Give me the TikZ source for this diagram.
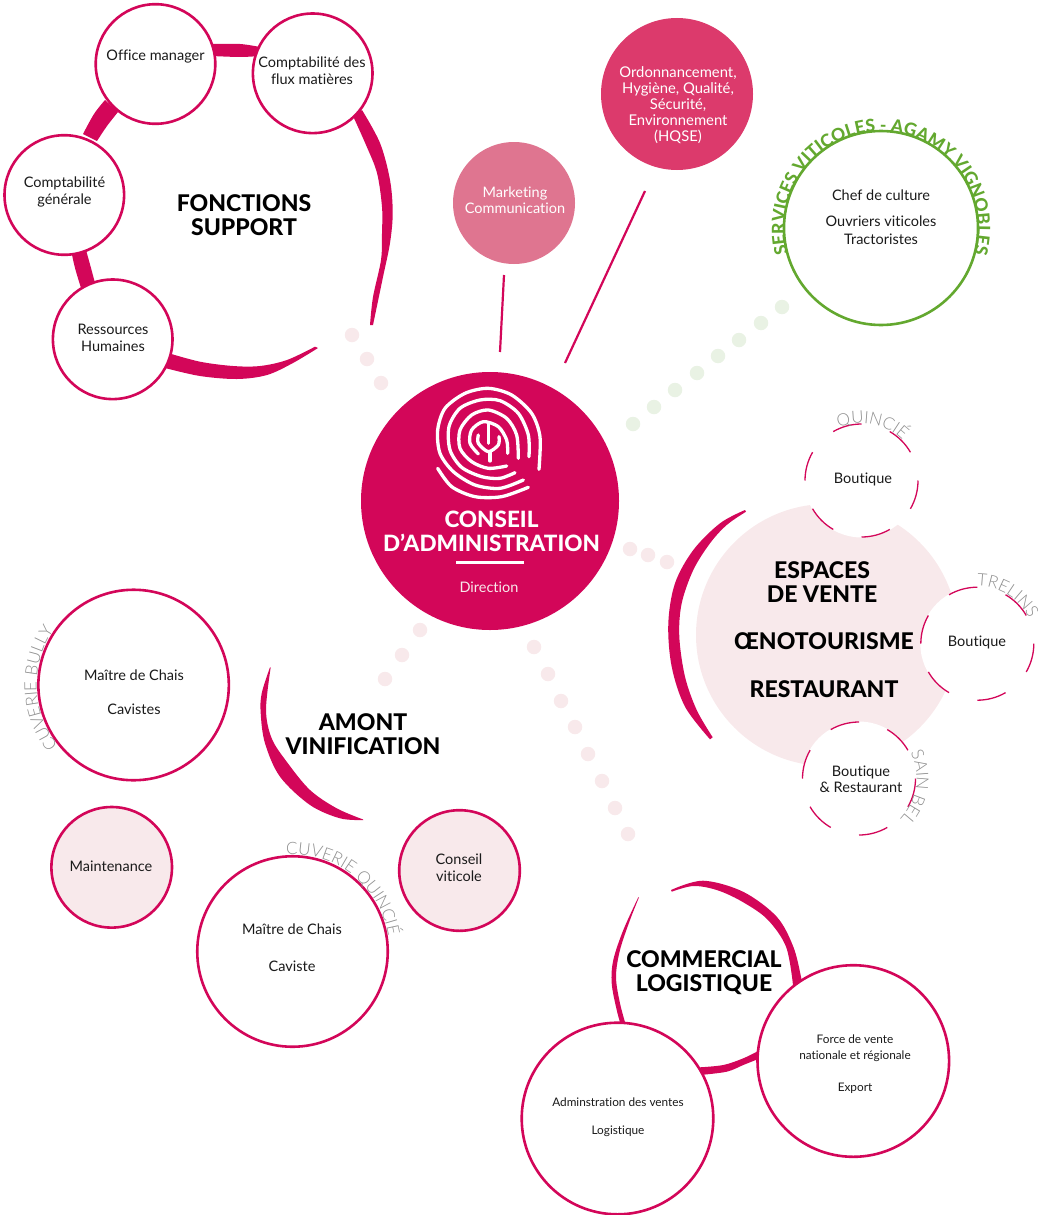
\documentclass[tikz,border=0pt]{standalone}
\usepackage{fontspec}
\setmainfont{Lato}[Ligatures=NoCommon]
\newfontfamily\lightf{Lato}[UprightFont=* Light]
\newfontfamily\heavyf{Lato}[UprightFont=* Heavy]
\usetikzlibrary{decorations.text}
\definecolor{cpink}{HTML}{D30659}
\definecolor{cpale}{HTML}{F8E9EB}
\definecolor{cgreen}{HTML}{63A82F}
\definecolor{cdotg}{HTML}{E9F2E4}
\definecolor{cmark}{HTML}{DF7590}
\definecolor{chqse}{HTML}{DC3A6C}
\definecolor{cgray}{HTML}{8F8F8F}
\definecolor{ctext}{HTML}{1A1A1A}
\newcommand{\fsz}[2]{\fontsize{#1pt}{#2pt}\selectfont}
\newcommand{\brush}[2]{\fill[cpink] plot[smooth,tension=.55] coordinates {#1} -- plot[smooth,tension=.55] coordinates {#2} -- cycle;}
\newcommand{\arctext}[7]{\path[shift={(#1,#2)},y=1pt,decorate,decoration={text along path,text align=center,text={|#6|#7}}] (#4:#3pt) arc[start angle=#4,end angle=#5,radius=#3pt];}
\newcommand{\dasharcs}[3]{\foreach \k in {0,...,5}{\draw[cpink,line width=1.3pt,shift={(#1,#2)},y=1pt] ({30+60*\k}:#3pt) arc[start angle={30+60*\k},end angle={60+60*\k},radius=#3pt];}}
\tikzset{
 ring/.style={circle,draw=cpink,line width=2.6pt,fill=white,inner sep=0pt},
 pring/.style={ring,fill=cpale},
 disc/.style={circle,inner sep=0pt,fill=#1},
 dotp/.style={circle,inner sep=0pt,minimum size=14.5pt,fill=cpale},
 dotg/.style={circle,inner sep=0pt,minimum size=14.5pt,fill=cdotg},
 lbl/.style={align=center,inner sep=0pt,text=ctext,font=\fsz{14.5}{16.5}},
 sml/.style={lbl,font=\fsz{11.8}{16.5}},
 head/.style={align=center,inner sep=0pt,text=black,font=\fsz{23}{24}\heavyf},
 wht/.style={lbl,text=white},
 conn/.style={cpink,line width=2.2pt},
 logo/.style={white,line width=3.3pt,line cap=round,line join=round}
}
\begin{document}
\begin{tikzpicture}[x=1pt,y=-1pt]
\useasboundingbox (0,0) rectangle (1039,1215);
% dots
\foreach \x/\y in {352/335,367/359,381/383,630/549,648/555,667/562,420/630,402/655,385/679,534/647,548/674,561/701,575/727,588/754,602/781,615/808,628/834}
  \node[dotp] at (\x,\y) {};
\foreach \x/\y in {782/307,761/323,739/340,718/356,697/373,675/390,654/407,633/424}
  \node[dotg] at (\x,\y) {};
% brush strokes: support
\brush{(212,44)(240,44)(260,47)}{(260,56)(240,57)(212,56)}
\brush{(105,100)(94,114)(83,134)}{(97,141)(107,126)(118,112)}
\brush{(71,250)(75,268)(81,288)}{(95,283)(91,268)(86,250)}
\brush{(362,110)(380,143)(390,180)(392.7,213)(390,243)(383,277)(373,325)}{(370,325)(373,297)(381,260)(382,233)(382,207)(377,173)(366,145)(353,116)}
\brush{(165,368)(200,376)(237,379)(267,375)(293,363)(318,348)}{(315,346.7)(287,360)(260,366)(233,366)(200,361.7)(168,353)}
% amont
\brush{(270,667.3)(261.7,693.3)(260.7,713.3)(265,743.3)(280,776.7)(310,805)(340,818.3)(363.3,820)}{(362.7,819.3)(336.7,808.3)(310,790)(286.7,761.7)(271.7,738.3)(266,710)(270.7,667.3)}
% espaces
\brush{(745,510)(720,523.3)(693.3,550)(675,583.3)(668.3,623.3)(671.7,666.7)(685,706.7)(710,739.3)}{(712.7,737.3)(696.7,710)(685,676.7)(679.3,636.7)(681.7,603.3)(693.3,570)(710,543.3)(726.7,525)(746,511.7)}
% commercial
\brush{(671,890)(703,880.7)(743,891.7)(776.7,916.7)(793.3,946.7)(801,976.7)(802,985)}{(793,985)(786,946.7)(767,919)(741,901)(716.7,890)(693.3,886)(671.7,891.7)}
\brush{(638.3,897.3)(623.3,930)(613.3,960)(611.7,983.3)(616.7,1010)(621.7,1028)}{(626.7,1028)(620,1003.3)(616,976.7)(620,950)(630,920)(639,897.3)}
\brush{(700,1075)(726.7,1071.7)(743.3,1065)(760,1058.3)}{(760,1050)(743.3,1058.3)(723.3,1065)(700,1067.3)}
% circles
\node[ring,minimum size=119.6pt] (office) at (155.5,64) {};
\node[ring,minimum size=119.6pt] (flux) at (312.7,73.3) {};
\node[ring,minimum size=119.6pt] (gen) at (64.3,195) {};
\node[ring,minimum size=119.6pt] (rh) at (112.7,339.3) {};
\node[disc=cmark,minimum size=122pt] (mkt) at (514,203) {};
\node[disc=chqse,minimum size=152pt] (hqse) at (677,94) {};
\node[circle,draw=cgreen,line width=2.6pt,inner sep=0pt,minimum size=194pt] (agamy) at (881,228) {};
\node[disc=cpink,minimum size=258pt] (ca) at (490,501) {};
\node[disc=cpale,minimum size=262pt] (esp) at (827,635) {};
\node[disc=white,minimum size=114pt] (bq) at (861.5,480.5) {};
\node[disc=white,minimum size=114pt] (bt) at (977.3,643.7) {};
\node[disc=white,minimum size=114pt] (bs) at (859,778.5) {};
\dasharcs{861.5}{480.5}{56.5}
\dasharcs{977.3}{643.7}{56.5}
\dasharcs{859}{778.5}{56.5}
\node[ring,minimum size=190.5pt] (bully) at (133.6,685) {};
\node[pring,minimum size=120.6pt] (maint) at (111.7,867.3) {};
\node[ring,minimum size=190.5pt] (cq) at (292.5,951.5) {};
\node[pring,minimum size=120.6pt] (visc) at (459.5,870.5) {};
\node[ring,minimum size=191.6pt] (adm) at (617.5,1118.5) {};
\node[ring,minimum size=191.6pt] (force) at (853.3,1061) {};
% connectors
\coordinate (ma) at (500,352);
\coordinate (mb) at (565,363);
\coordinate (mc) at (504,275);
\coordinate (md) at (645,191);
\draw[conn] (mc) -- (ma);
\draw[conn] (md) -- (mb);
% curved labels
\arctext{881}{228}{96.5}{208}{-28}{\fsz{17.5}{17.5}\heavyf\color{cgreen}}{SERVICES VITICOLES - AGAMY VIGNOBLES}
\arctext{861.5}{480.5}{57.5}{135}{23}{\fsz{17}{17}\lightf\color{cgray}}{QUINCIÉ}
\arctext{977.3}{643.7}{57.5}{110}{6}{\fsz{17}{17}\lightf\color{cgray}}{TRELINS}
\arctext{859}{778.5}{57.5}{50}{-68}{\fsz{17}{17}\lightf\color{cgray}}{SAIN BEL}
\arctext{133.6}{685}{97}{235}{129}{\fsz{17}{17}\lightf\color{cgray}}{CUVERIE BULLY}
\arctext{292.5}{951.5}{97}{108}{-5}{\fsz{17}{17}\lightf\color{cgray}}{CUVERIE QUINCIÉ}
% logo
\begin{scope}[shift={(425,380)},x=.3333pt,y=-.3333pt]
\draw[logo] plot[smooth] coordinates {(342,268)(345,170)(320,100)(260,45)(190,25)(120,40)(60,85)(38,150)(45,220)(85,275)(150,315)(225,325)(295,300)};
\draw[logo] plot[smooth] coordinates {(312,230)(310,165)(280,100)(225,62)(165,60)(105,85)(72,140)(75,210)(110,262)(170,290)(225,295)(270,278)};
\draw[logo] plot[smooth] coordinates {(280,235)(275,165)(245,115)(190,90)(140,105)(105,150)(105,205)(140,245)(190,265)(245,258)};
\draw[logo] plot[smooth] coordinates {(160,222)(135,190)(140,150)(175,125)(220,140)(245,180)(248,220)};
\draw[logo] plot[smooth] coordinates {(38,265)(80,320)(150,350)(230,350)(310,322)};
\draw[logo] (190,130) -- (190,190);
\draw[logo] plot[smooth] coordinates {(160,165)(160,190)(190,215)(220,195)(222,170)};
\draw[logo] (195,215) -- (195,243);
\end{scope}
\coordinate (ula) at (456,562.3);
\coordinate (ulb) at (524,562.3);
\draw[white,line width=2.6pt] (ula) -- (ulb);
% labels
\node[lbl] (t1) at (155.5,56.5) {Office manager};
\node[lbl] (t2) at (312,70.5) {Comptabilité des\\flux matières};
\node[lbl] (t3) at (64.5,192) {Comptabilité\\générale};
\node[lbl,font=\fsz{14.5}{17}] (t4) at (113,337.5) {Ressources\\Humaines};
\node[head] (t5) at (244,215) {FONCTIONS\\SUPPORT};
\node[wht] (t6) at (515,200) {Marketing\\Communication};
\node[wht,font=\fsz{14.8}{16}] (t7) at (678,105) {Ordonnancement,\\Hygiène, Qualité,\\Sécurité,\\Environnement\\(HQSE)};
\node[lbl] (t8) at (881,195) {Chef de culture};
\node[lbl,font=\fsz{14.5}{18}] (t9) at (881,230) {Ouvriers viticoles\\Tractoristes};
\node[lbl] (t10) at (863,479.5) {Boutique};
\node[lbl] (t11) at (977,642.5) {Boutique};
\node[lbl] (t12) at (861,779.5) {Boutique\\\& Restaurant};
\node[head] (t13) at (822,582) {ESPACES\\DE VENTE};
\node[head] (t14) at (824,641) {ŒNOTOURISME};
\node[head] (t15) at (824,689) {RESTAURANT};
\node[head] (t16) at (363,734) {AMONT\\VINIFICATION};
\node[lbl] (t17) at (134,675) {Maître de Chais};
\node[lbl] (t18) at (134,709) {Cavistes};
\node[lbl] (t19) at (111,866) {Maintenance};
\node[lbl] (t20) at (292,929) {Maître de Chais};
\node[lbl] (t21) at (292,966) {Caviste};
\node[lbl,font=\fsz{14.5}{17}] (t22) at (459,867.5) {Conseil\\viticole};
\node[head] (t23) at (704,973) {COMMERCIAL\\LOGISTIQUE};
\node[sml] (t24) at (855,1048) {Force de vente\\nationale et régionale};
\node[sml] (t25) at (855,1088.5) {Export};
\node[sml] (t26) at (618,1102.5) {Adminstration des ventes};
\node[sml] (t27) at (618,1131.5) {Logistique};
\node[head,text=white,font=\fsz{22.5}{24}\heavyf] (t28) at (491.5,531) {CONSEIL\\D’ADMINISTRATION};
\node[lbl,text=cpale] (t29) at (489,587) {Direction};
\end{tikzpicture}
\end{document}
